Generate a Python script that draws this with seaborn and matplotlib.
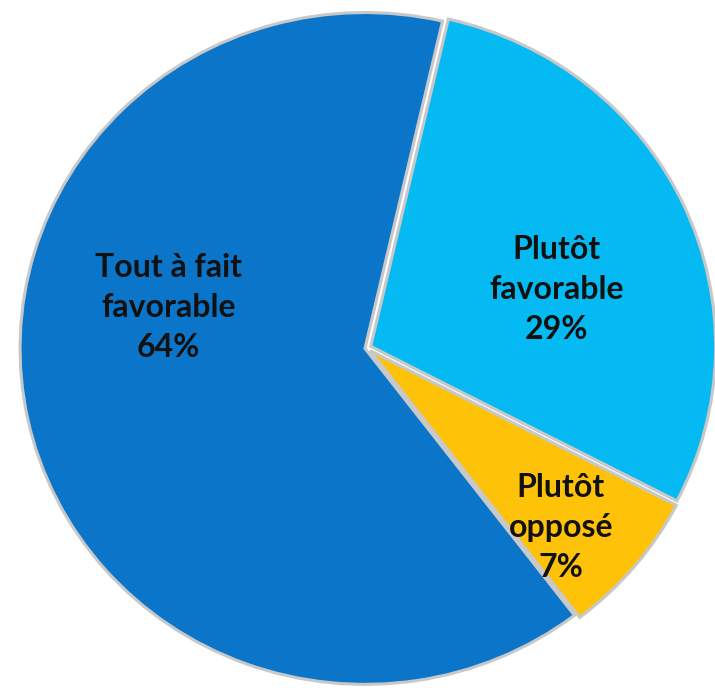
import matplotlib
matplotlib.use("Agg")
import matplotlib.pyplot as plt
import seaborn as sns

labels = ["Plutôt\nfavorable", "Plutôt\nopposé", "Tout à fait\nfavorable"]
values = [29, 7, 64]
colors = ["#05BAF3", "#FEC208", "#0A75C9"]

sns.set_theme(style="white")
plt.rcParams["font.family"] = ["Lato", "DejaVu Sans"]

fig = plt.figure(figsize=(7.15, 6.9), dpi=100)
ax = fig.add_axes([0, 0, 1, 1])

wedges, _ = ax.pie(
    values,
    colors=sns.color_palette(colors),
    startangle=77,
    counterclock=False,
    explode=[0.012, 0.012, 0.006],
    wedgeprops=dict(edgecolor="#C8C8C8", linewidth=2.2),
)

for w in wedges:
    w.set_joinstyle("miter")

label_pos = [(0.55, 0.175), (0.562, -0.535), (-0.575, 0.12)]
for (x, y), lab, v in zip(label_pos, labels, values):
    ax.text(x, y, f"{lab}\n{v}%", ha="center", va="center",
            fontsize=23, fontweight="bold", color="#111111",
            linespacing=1.45)

ax.set_aspect("auto")
ax.set_xlim(-1.064, 1.009)
ax.set_ylim(-1.018, 1.036)
ax.axis("off")

fig.savefig("out.png", dpi=100, facecolor="white")
